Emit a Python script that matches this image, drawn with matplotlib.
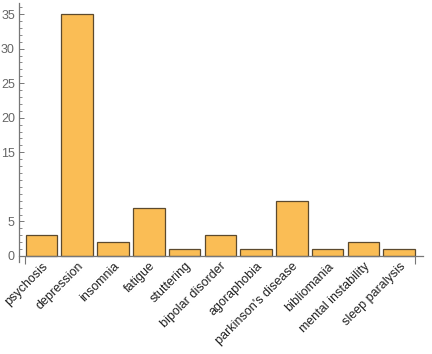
import matplotlib
matplotlib.use("Agg")
import matplotlib.pyplot as plt
import numpy as np
from matplotlib.ticker import FixedLocator

categories = ["psychosis", "depression", "insomnia", "fatigue", "stuttering",
              "bipolar disorder", "agoraphobia", "parkinson's disease",
              "bibliomania", "mental instability", "sleep paralysis"]
counts = [3, 35, 2, 7, 1, 3, 1, 8, 1, 2, 1]
y_ticks = [0, 5, 15, 20, 25, 30, 35]

W, H = 432, 354
fig = plt.figure(figsize=(W / 100, H / 100), dpi=100)
ax = fig.add_axes([19 / W, 1 - 262 / H, (423 - 19) / W, (262 - 3) / H])

x = np.arange(len(categories))
ax.bar(x, counts, width=0.885, color="#FABD55", edgecolor="#5C4A2E", lw=0.9, zorder=2)

ax.set_xlim(-0.629, 10.665)
ax.set_ylim(-0.87, 36.6)

for side in ("top", "right"):
    ax.spines[side].set_visible(False)
ax.spines["bottom"].set_position(("data", 0))
ax.spines["bottom"].set_color("#777777")
ax.spines["left"].set_color("#777777")
ax.spines["bottom"].set_linewidth(0.9)
ax.spines["left"].set_linewidth(0.9)

ax.set_xticks(x)
ax.set_xticklabels(categories, rotation=45, ha="right", va="top",
                   rotation_mode="anchor", fontsize=9, family="Liberation Sans",
                   color="#222222")
ax.tick_params(axis="x", which="major", length=0, pad=3)
ax.xaxis.set_minor_locator(FixedLocator([-0.45, 10.45]))
ax.tick_params(axis="x", which="minor", length=6, direction="out", width=0.8, color="#777777")

ax.set_yticks(y_ticks)
ax.set_yticklabels([str(v) for v in y_ticks], fontsize=9, family="Liberation Sans", color="#666666")
ax.yaxis.set_minor_locator(FixedLocator([v for v in range(0, 37) if v not in y_ticks]))
ax.tick_params(axis="y", which="major", length=3.5, direction="in", width=0.7, color="#777777", pad=3)
ax.tick_params(axis="y", which="minor", length=2, direction="in", width=0.6, color="#777777")

fig.savefig("out.png", dpi=100)
